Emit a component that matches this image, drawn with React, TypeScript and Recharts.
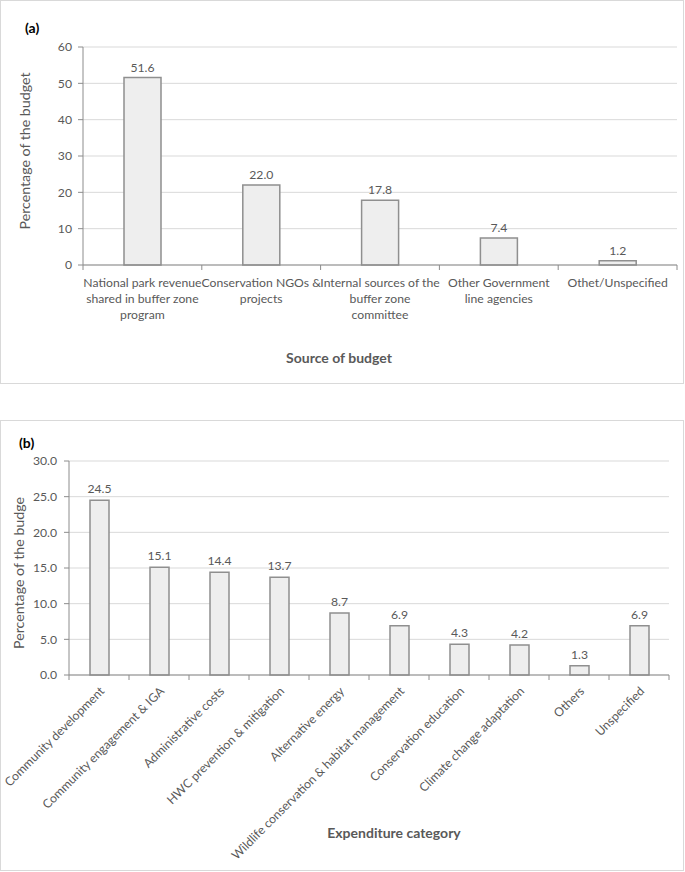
import React from "react";
import { BarChart, Bar, XAxis, YAxis, CartesianGrid, LabelList } from "recharts";

// (a) budget sources
const sourceNames = [
    "National park revenue\nshared in buffer zone\nprogram",
    "Conservation NGOs &\nprojects",
    "Internal sources of the\nbuffer zone\ncommittee",
    "Other Government\nline agencies",
    "Othet/Unspecified",
];
const sourceShares = [51.6, 22.0, 17.8, 7.4, 1.2];
const sourceTicks = [0, 10, 20, 30, 40, 50, 60];

// (b) expenditure categories
const expenseNames = [
    "Community development",
    "Community engagement & IGA",
    "Administrative costs",
    "HWC prevention & mitigation",
    "Alternative energy",
    "Wildlife conservation & habitat management",
    "Conservation education",
    "Climate change adaptation",
    "Others",
    "Unspecified",
];
const expenseShares = [24.5, 15.1, 14.4, 13.7, 8.7, 6.9, 4.3, 4.2, 1.3, 6.9];
const expenseTicks = [0, 5, 10, 15, 20, 25, 30];

const sourceData = sourceNames.map((name, i) => ({ name, value: sourceShares[i] }));
const expenseData = expenseNames.map((name, i) => ({ name, value: expenseShares[i] }));

const FONT = "Lato, 'Open Sans', sans-serif";
const TEXT = "#595959";
const AXIS = "#8c8c8c";
const GRID = "#d9d9d9";
const BAR_FILL = "#eeeeee";
const BAR_STROKE = "#8f8f8f";
const FS = 12.2;

// boundary tick marks like Excel (between categories, not at centers)
function BoundaryTicks({ x, y, off, last }: { x: number; y: number; off: number; last: boolean }) {
    return (
        <>
            <line x1={x - off} x2={x - off} y1={y} y2={y + 5} stroke={AXIS} />
            {last && <line x1={x + off} x2={x + off} y1={y} y2={y + 5} stroke={AXIS} />}
        </>
    );
}

function WrappedTick(props: any) {
    const { x, y, payload, index, visibleTicksCount } = props;
    const lines = String(payload.value).split("\n");
    const off = payload.offset ?? 0;
    return (
        <g>
            <BoundaryTicks x={x} y={y} off={off} last={index === visibleTicksCount - 1} />
            <text textAnchor="middle" fill={TEXT} fontSize={FS} fontFamily={FONT}>
                {lines.map((l, i) => (
                    <tspan key={i} x={x} y={y + 21.5 + i * 16}>{l}</tspan>
                ))}
            </text>
        </g>
    );
}

function RotatedTick(props: any) {
    const { x, y, payload, index, visibleTicksCount } = props;
    const off = payload.offset ?? 0;
    return (
        <g>
            <BoundaryTicks x={x} y={y} off={off} last={index === visibleTicksCount - 1} />
            <text
                transform={`translate(${x + 3},${y + 14}) rotate(-45)`}
                textAnchor="end"
                dy="0.35em"
                fill={TEXT}
                fontSize={FS}
                fontFamily={FONT}
            >
                {payload.value}
            </text>
        </g>
    );
}

const boxStyle: React.CSSProperties = {
    position: "absolute",
    left: 0,
    width: 684,
    boxSizing: "border-box",
    border: "1px solid #d9d9d9",
    background: "#fff",
};

const abs = (extra: React.CSSProperties): React.CSSProperties => ({
    position: "absolute",
    fontFamily: FONT,
    whiteSpace: "nowrap",
    ...extra,
});

export default function App() {
    return (
        <div style={{ position: "absolute", left: 0, top: 0, width: 685, height: 872, background: "#fff", fontFamily: FONT }}>
            {/* panel (a) */}
            <div style={{ ...boxStyle, top: 0, height: 384 }}>
                <BarChart
                    width={682}
                    height={382}
                    data={sourceData}
                    margin={{ top: 46, right: 6, left: 42, bottom: 38 }}
                    barCategoryGap={0}
                >
                    <CartesianGrid vertical={false} stroke={GRID} />
                    <XAxis
                        dataKey="name"
                        height={80}
                        interval={0}
                        tickSize={0}
                        tickMargin={0}
                        axisLine={{ stroke: AXIS }}
                        tickLine={false}
                        tick={<WrappedTick />}
                    />
                    <YAxis
                        width={40}
                        domain={[0, 60]}
                        ticks={sourceTicks}
                        tickSize={5}
                        tickMargin={6}
                        axisLine={{ stroke: AXIS }}
                        tickLine={{ stroke: AXIS }}
                        tick={{ fill: TEXT, fontSize: FS, fontFamily: FONT }}
                    />
                    <Bar dataKey="value" fill={BAR_FILL} stroke={BAR_STROKE} strokeWidth={1.5} barSize={37} isAnimationActive={false}>
                        <LabelList
                            dataKey="value"
                            position="top"
                            offset={6}
                            formatter={(v: any) => Number(v).toFixed(1)}
                            style={{ fill: TEXT, fontSize: FS, fontFamily: FONT }}
                        />
                    </Bar>
                </BarChart>
                <div style={abs({ left: 24, top: 18, fontSize: 14, fontWeight: 700, color: "#000" })}>(a)</div>
                <div
                    style={abs({
                        left: 23,
                        top: 149.5,
                        fontSize: 14.2,
                        color: TEXT,
                        transform: "translate(-50%, -50%) rotate(-90deg)",
                    })}
                >
                    Percentage of the budget
                </div>
                <div style={abs({ left: 338, top: 356, fontSize: 14, fontWeight: 700, color: TEXT, transform: "translate(-50%, -50%)" })}>
                    Source of budget
                </div>
            </div>

            {/* panel (b) */}
            <div style={{ ...boxStyle, top: 420, height: 451 }}>
                <BarChart
                    width={682}
                    height={449}
                    data={expenseData}
                    margin={{ top: 40, right: 14, left: 28, bottom: 45 }}
                    barCategoryGap={0}
                >
                    <CartesianGrid vertical={false} stroke={GRID} />
                    <XAxis
                        dataKey="name"
                        height={150}
                        interval={0}
                        tickSize={0}
                        tickMargin={0}
                        axisLine={{ stroke: AXIS }}
                        tickLine={false}
                        tick={<RotatedTick />}
                    />
                    <YAxis
                        width={40}
                        domain={[0, 30]}
                        ticks={expenseTicks}
                        tickSize={5}
                        tickMargin={7}
                        axisLine={{ stroke: AXIS }}
                        tickLine={{ stroke: AXIS }}
                        tickFormatter={(v: number) => v.toFixed(1)}
                        tick={{ fill: TEXT, fontSize: FS, fontFamily: FONT }}
                    />
                    <Bar dataKey="value" fill={BAR_FILL} stroke={BAR_STROKE} strokeWidth={1.5} barSize={19} isAnimationActive={false}>
                        <LabelList
                            dataKey="value"
                            position="top"
                            offset={7}
                            formatter={(v: any) => Number(v).toFixed(1)}
                            style={{ fill: TEXT, fontSize: FS, fontFamily: FONT }}
                        />
                    </Bar>
                </BarChart>
                <div style={abs({ left: 18, top: 13, fontSize: 14, fontWeight: 700, color: "#000" })}>(b)</div>
                <div
                    style={abs({
                        left: 17,
                        top: 152,
                        fontSize: 14.2,
                        color: TEXT,
                        transform: "translate(-50%, -50%) rotate(-90deg)",
                    })}
                >
                    Percentage of the budge
                </div>
                <div style={abs({ left: 393, top: 411, fontSize: 14, fontWeight: 700, color: TEXT, transform: "translate(-50%, -50%)" })}>
                    Expenditure category
                </div>
            </div>
        </div>
    );
}
